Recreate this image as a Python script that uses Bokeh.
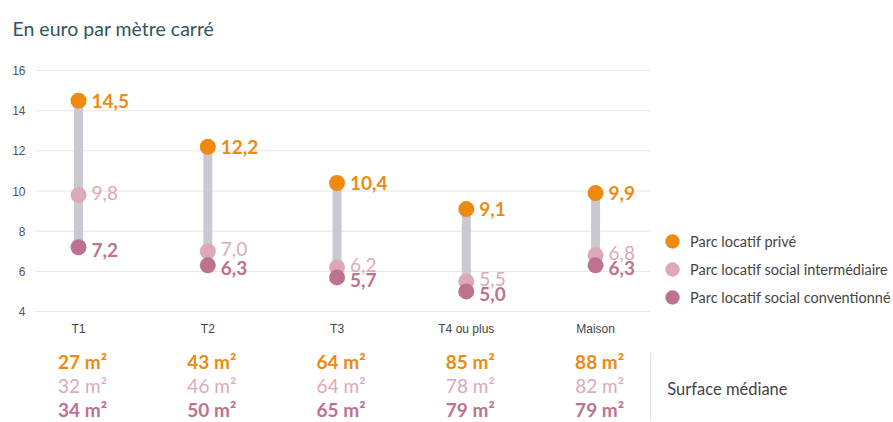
from bokeh.plotting import figure
from bokeh.models import FixedTicker, Legend, LegendItem, ColumnDataSource
from bokeh.core.properties import value
from bokeh.embed import file_html
from bokeh.resources import INLINE

# ---- data ----
categories = ["T1", "T2", "T3", "T4 ou plus", "Maison"]
prive = [14.5, 12.2, 10.4, 9.1, 9.9]
intermediaire = [9.8, 7.0, 6.2, 5.5, 6.8]
conventionne = [7.2, 6.3, 5.7, 5.0, 6.3]
surf_prive = [27, 43, 64, 85, 88]
surf_inter = [32, 46, 64, 78, 82]
surf_conv = [34, 50, 65, 79, 79]
y_ticks = [4, 6, 8, 10, 12, 14, 16]
series_names = ["Parc locatif privé", "Parc locatif social intermédiaire",
                "Parc locatif social conventionné"]
surface_title = "Surface médiane"
chart_title = "En euro par mètre carré"

# ---- style ----
C_PRIVE = "#ee8a10"
C_INTER = "#dba9b8"
C_CONV = "#bd7290"
C_BAR = "#c9c9d2"
C_GRID = "#e6e6e6"
FONT = "Lato"


def fr(v):
    return f"{v:.1f}".replace(".", ",")


xs = list(range(len(categories)))
grid_end = 4.427
x_left = -0.333

p = figure(width=893, height=422, x_range=(x_left, 6.305), y_range=(-1.528, 17.0),
           output_backend="svg", toolbar_location=None,
           min_border_left=35, min_border_right=0, min_border_top=50, min_border_bottom=0)
p.outline_line_color = None
p.xaxis.visible = False
p.xgrid.visible = False
p.ygrid.visible = False

p.title.text = chart_title
p.title.text_font = FONT
p.title.text_font_size = "19.5px"
p.title.text_font_style = "normal"
p.title.text_color = "#2f5560"
p.title.offset = -23
p.title.standoff = 22

yax = p.yaxis[0]
yax.ticker = FixedTicker(ticks=y_ticks)
yax.axis_line_color = None
yax.major_tick_line_color = None
yax.minor_tick_line_color = None
yax.major_tick_out = 0
yax.major_label_standoff = 10
yax.major_label_text_font = "Liberation Sans"
yax.major_label_text_font_size = "12px"
yax.major_label_text_color = "#555555"

# grid lines
p.segment(x0=[x_left] * len(y_ticks), x1=[grid_end] * len(y_ticks), y0=y_ticks, y1=y_ticks,
          line_color=C_GRID, line_width=1)

src = ColumnDataSource(dict(
    x=xs, cat=categories, prive=prive, inter=intermediaire, conv=conventionne,
    prive_l=[fr(v) for v in prive], inter_l=[fr(v) for v in intermediaire],
    conv_l=[fr(v) for v in conventionne],
    sp=[f"{v} m²" for v in surf_prive], si=[f"{v} m²" for v in surf_inter],
    sc=[f"{v} m²" for v in surf_conv],
))

# dumbbell bars
p.segment(x0="x", x1="x", y0="conv", y1="prive", source=src, line_color=C_BAR, line_width=9)

r_inter = p.scatter(x="x", y="inter", source=src, size=16, fill_color=C_INTER, line_color=None)
r_conv = p.scatter(x="x", y="conv", source=src, size=16, fill_color=C_CONV, line_color=None)
r_prive = p.scatter(x="x", y="prive", source=src, size=16, fill_color=C_PRIVE, line_color=None)

p.text(x="x", y="prive", text="prive_l", source=src, x_offset=13, y_offset=0,
       text_font=value(FONT), text_font_size="19px", text_font_style="bold",
       text_color=C_PRIVE, text_baseline="middle")
p.text(x="x", y="inter", text="inter_l", source=src, x_offset=13, y_offset=-2,
       text_font=value(FONT), text_font_size="19px", text_font_style="normal",
       text_color=C_INTER, text_baseline="middle")
p.text(x="x", y="conv", text="conv_l", source=src, x_offset=13, y_offset=3,
       text_font=value(FONT), text_font_size="19px", text_font_style="bold",
       text_color=C_CONV, text_baseline="middle")

# category labels
p.text(x="x", y=3.15, text="cat", source=src, text_font=value("Liberation Sans"),
       text_font_size="12px", text_color="#444444", text_align="center", text_baseline="middle")

# surfaces
for col, yy, c, st in [("sp", 1.51, C_PRIVE, "bold"), ("si", 0.315, C_INTER, "normal"),
                       ("sc", -0.88, C_CONV, "bold")]:
    p.text(x="x", y=yy, text=col, source=src, x_offset=4, text_font=value(FONT),
           text_font_size="19px", text_font_style=st, text_color=c,
           text_align="center", text_baseline="middle")

p.segment(x0=[grid_end], x1=[grid_end], y0=[1.96], y1=[-1.45], line_color="#dddddd", line_width=1)
p.text(x=[4.555], y=[0.165], text=[surface_title], text_font=value(FONT), text_font_size="16.5px",
       text_color="#444444", text_baseline="middle")

# legend: one legend per entry for exact row spacing
for i, (name, r) in enumerate(zip(series_names, [r_prive, r_inter, r_conv])):
    lg = Legend(items=[LegendItem(label=name, renderers=[r])],
                location=(619, 163 - 28 * i), glyph_width=36, glyph_height=36,
                padding=0, margin=0, label_standoff=-2, label_height=20,
                border_line_color=None, background_fill_alpha=0,
                label_text_font=FONT, label_text_font_size="14.5px",
                label_text_color="#444444")
    p.add_layout(lg)

open("out.html", "w").write(file_html(p, INLINE))
